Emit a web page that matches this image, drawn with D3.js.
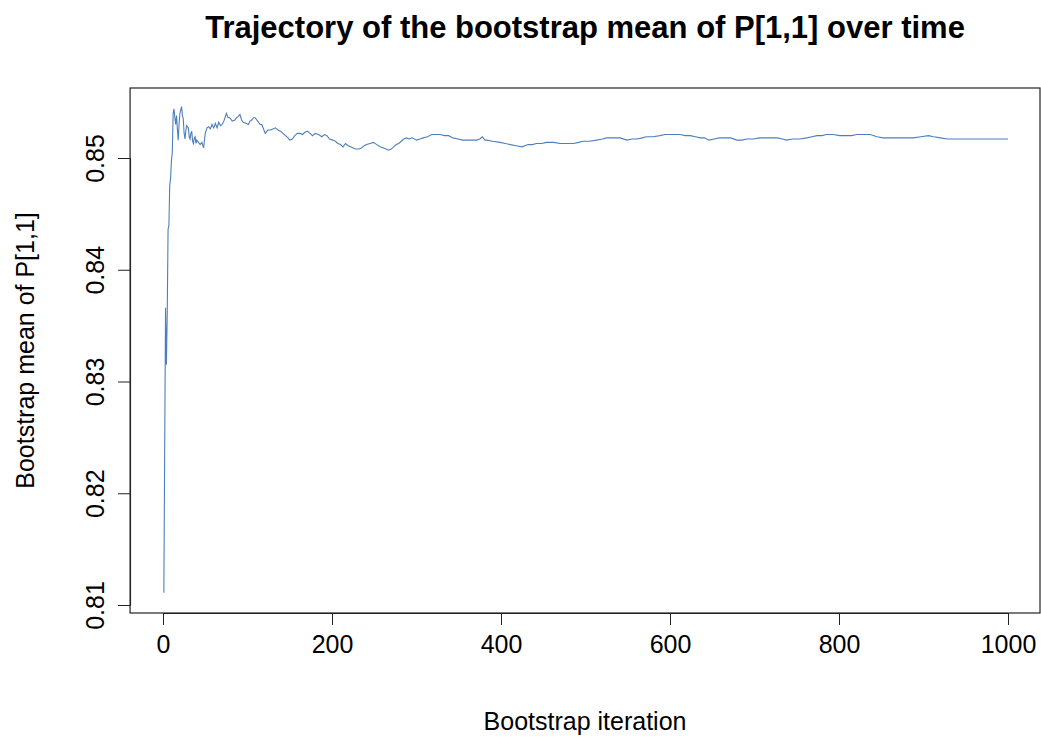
<!DOCTYPE html>
<html>
<head>
<meta charset="utf-8">
<script src="https://cdn.jsdelivr.net/npm/d3@7"></script>
<style>
  body { margin: 0; background: #fff; }
  svg { display: block; font-family: "Liberation Sans", Arial, sans-serif; }
</style>
</head>
<body>
<div class="chart"></div>
<script>
// iteration numbers and running bootstrap mean
var iterations = [1,2,3,4,5,6,7,8,9,10,11,12,13,14,15,16,17,18,19,20,
  21,22,23,24,25,26,27,28,29,30,31,32,33,34,35,36,37,38,39,40,
  42,44,46,48,50,52,54,56,58,60,62,64,66,68,70,72,75,77,79,82,
  85,87,89,91,93,95,98,101,103,105,107,109,112,115,117,119,121,124,127,130,
  133,136,139,142,145,148,150,153,156,159,162,165,168,171,174,177,180,184,188,191,
  194,197,201,204,207,210,213,216,219,222,225,228,232,235,238,241,245,249,253,257,
  261,264,267,270,273,276,279,282,285,288,291,295,300,304,308,313,318,323,328,333,
  338,343,349,355,362,371,375,378,381,383,390,399,405,411,418,425,432,437,442,448,
  454,462,470,478,486,492,497,505,513,520,525,533,541,549,555,561,567,572,580,588,
  594,600,606,612,618,624,630,636,641,646,652,659,665,672,679,685,691,699,706,713,
  720,727,733,738,745,754,762,768,774,780,785,793,801,808,815,821,828,837,845,852,
  857,865,872,880,888,897,906,912,920,928,935,945,955,965,975,985,1000];

var bootMean = [0.8111,0.8239,0.8366,0.8315,0.8360,0.8436,0.8440,0.8476,0.8482,0.8498,
  0.8505,0.8540,0.8544,0.8536,0.8530,0.8538,0.8526,0.8516,0.8530,0.8540,
  0.8543,0.8546,0.8538,0.8535,0.8522,0.8517,0.8524,0.8529,0.8528,0.8527,
  0.8519,0.8517,0.8522,0.8524,0.8515,0.8513,0.8518,0.8519,0.8513,0.8516,
  0.8514,0.8512,0.8514,0.8509,0.8522,0.8527,0.8528,0.8526,0.8530,0.8527,
  0.8531,0.8527,0.8532,0.8529,0.8530,0.8533,0.8540,0.8536,0.8536,0.8533,
  0.8534,0.8536,0.8537,0.8539,0.8534,0.8532,0.8531,0.8530,0.8533,0.8534,
  0.8536,0.8536,0.8533,0.8530,0.8530,0.8526,0.8522,0.8525,0.8525,0.8526,
  0.8527,0.8525,0.8524,0.8522,0.8520,0.8518,0.8516,0.8517,0.8520,0.8522,
  0.8522,0.8521,0.8523,0.8524,0.8522,0.8520,0.8522,0.8521,0.8519,0.8521,
  0.8520,0.8517,0.8516,0.8515,0.8513,0.8512,0.8510,0.8513,0.8511,0.8510,
  0.8509,0.8508,0.8508,0.8509,0.8511,0.8512,0.8513,0.8514,0.8512,0.8510,
  0.8509,0.8508,0.8507,0.8508,0.8510,0.8512,0.8513,0.8515,0.8517,0.8518,
  0.8517,0.8518,0.8516,0.8517,0.8518,0.8519,0.8521,0.8521,0.8521,0.8520,
  0.8520,0.8518,0.8517,0.8516,0.8516,0.8516,0.8517,0.8519,0.8516,0.8516,
  0.8515,0.8514,0.8513,0.8512,0.8511,0.8510,0.8512,0.8512,0.8513,0.8513,
  0.8514,0.8514,0.8513,0.8513,0.8513,0.8514,0.8515,0.8515,0.8516,0.8517,
  0.8518,0.8518,0.8518,0.8516,0.8517,0.8517,0.8518,0.8519,0.8519,0.8520,
  0.8521,0.8521,0.8521,0.8521,0.8520,0.8520,0.8519,0.8518,0.8518,0.8516,
  0.8517,0.8518,0.8518,0.8518,0.8516,0.8516,0.8517,0.8517,0.8518,0.8518,
  0.8518,0.8518,0.8517,0.8516,0.8517,0.8517,0.8518,0.8519,0.8520,0.8520,
  0.8521,0.8521,0.8520,0.8520,0.8520,0.8521,0.8521,0.8521,0.8519,0.8518,
  0.8518,0.8518,0.8518,0.8518,0.8518,0.8519,0.8520,0.8519,0.8518,0.8517,
  0.8517,0.8517,0.8517,0.8517,0.8517,0.8517,0.8517];

var xTicks = [0, 200, 400, 600, 800, 1000];
var yTicks = [0.81, 0.82, 0.83, 0.84, 0.85];

var titleText = 'Trajectory of the bootstrap mean of P[1,1] over time';
var xLabel = 'Bootstrap iteration';
var yLabel = 'Bootstrap mean of P[1,1]';

var width = 1041,
    height = 738;

var data = iterations.map(function(d, i) { return { it: d, v: bootMean[i] }; });

// R style: limits padded by 4% of the data range
var xMin = d3.min(iterations), xMax = d3.max(iterations);
var xPad = (xMax - xMin) * 0.04;

var x = d3.scaleLinear()
    .domain([0, 1000])
    .range([163, 1008]);

var y = d3.scaleLinear()
    .domain([0.81, 0.85])
    .range([605, 158]);

var boxLeft = x(xMin - xPad),
    boxRight = Math.min(x(xMax + xPad), 1040),
    boxTop = 88,
    boxBottom = 613;

var svg = d3.select('.chart')
    .append('svg')
    .attr('width', width)
    .attr('height', height);

var line = d3.line()
    .x(function(d) { return x(d.it); })
    .y(function(d) { return y(d.v); });

svg.append('path')
    .datum(data)
    .attr('d', line)
    .attr('fill', 'none')
    .attr('stroke', '#4f7fbb')
    .attr('stroke-width', 1.1);

// plot frame
svg.append('rect')
    .attr('x', boxLeft)
    .attr('y', boxTop)
    .attr('width', boxRight - boxLeft)
    .attr('height', boxBottom - boxTop)
    .attr('fill', 'none')
    .attr('stroke', '#222')
    .attr('stroke-width', 1.2);

var xAxis = d3.axisBottom(x)
    .tickValues(xTicks)
    .tickSize(12)
    .tickPadding(10)
    .tickFormat(d3.format('d'));

var gx = svg.append('g')
    .attr('transform', 'translate(0,' + boxBottom + ')')
    .call(xAxis);
gx.select('.domain').attr('stroke', '#222');
gx.selectAll('.tick line').attr('stroke', '#222');
gx.selectAll('.tick text')
    .attr('fill', '#000')
    .style('font-size', '25px')
    .style('font-family', '"Liberation Sans", Arial, sans-serif');

var yAxis = d3.axisLeft(y)
    .tickValues(yTicks)
    .tickSize(12)
    .tickFormat(d3.format('.2f'));

var gy = svg.append('g')
    .attr('transform', 'translate(' + boxLeft + ',0)')
    .call(yAxis);
gy.select('.domain').attr('stroke', '#222');
gy.selectAll('.tick line').attr('stroke', '#222');
gy.selectAll('.tick text')
    .attr('fill', '#000')
    .attr('x', null)
    .attr('dy', null)
    .attr('text-anchor', 'middle')
    .attr('transform', 'translate(-26,0) rotate(-90)')
    .style('font-size', '25px')
    .style('font-family', '"Liberation Sans", Arial, sans-serif');

svg.append('text')
    .attr('x', (boxLeft + boxRight) / 2)
    .attr('y', 38)
    .attr('text-anchor', 'middle')
    .style('font-size', '31px')
    .style('font-weight', 'bold')
    .text(titleText);

svg.append('text')
    .attr('x', (boxLeft + boxRight) / 2)
    .attr('y', 730)
    .attr('text-anchor', 'middle')
    .style('font-size', '25px')
    .text(xLabel);

svg.append('text')
    .attr('transform', 'translate(34,' + ((boxTop + boxBottom) / 2) + ') rotate(-90)')
    .attr('text-anchor', 'middle')
    .style('font-size', '25px')
    .text(yLabel);
</script>
</body>
</html>
